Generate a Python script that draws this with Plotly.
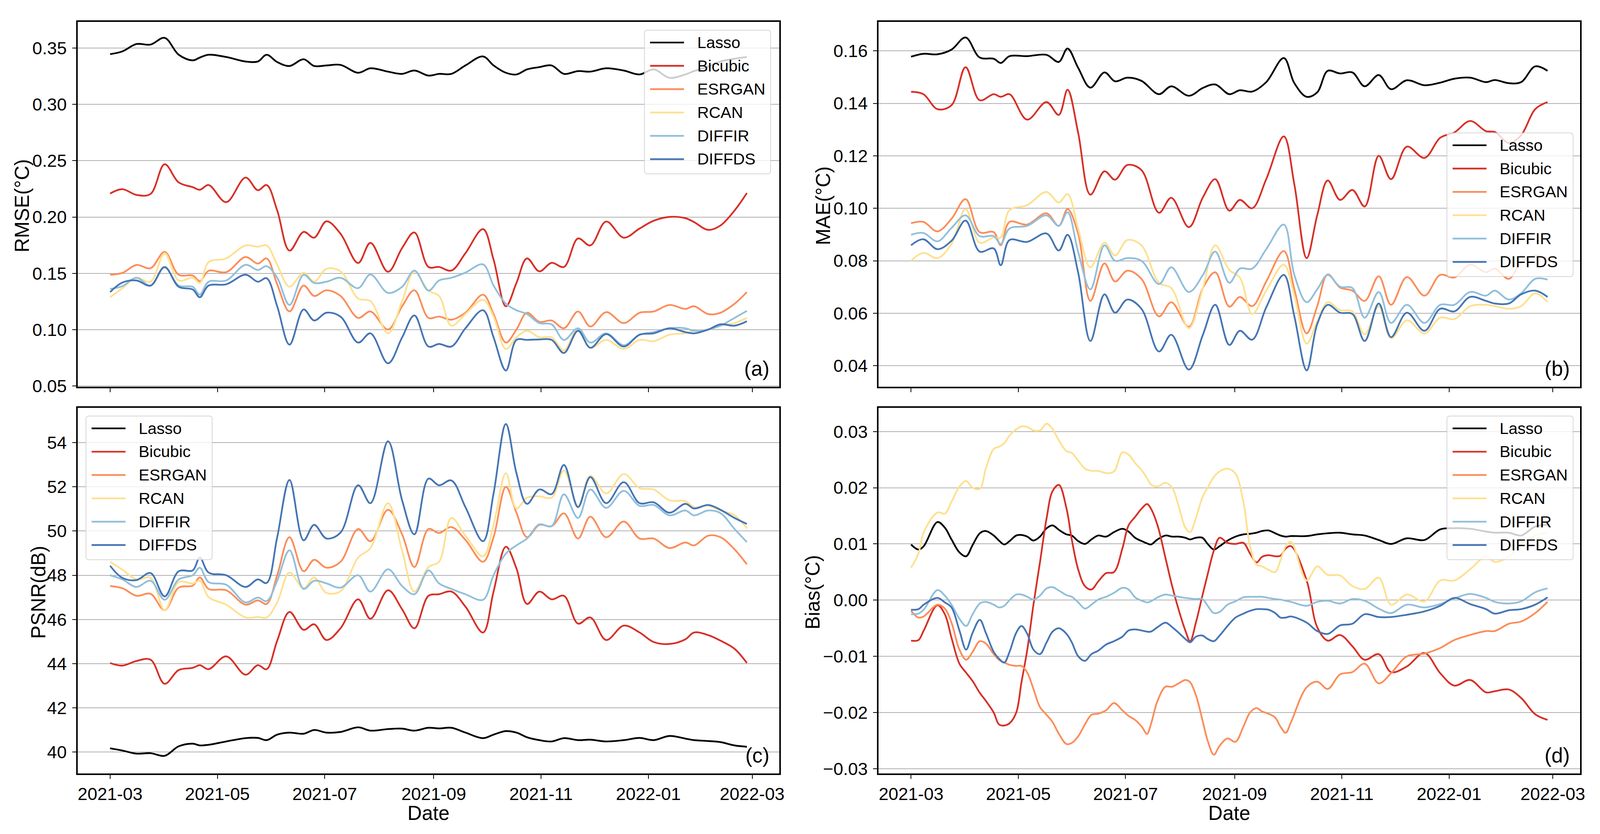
import pandas as pd
import plotly.graph_objects as go

# Reference picture size (px).  The visible page area is a little narrower
# than the reference, so the figure fills it and keeps the reference's
# relative layout (positions are given as fractions of the reference).
REF_W, REF_H = 4230, 2135
KX = 1.034
W, H = round(REF_W / KX), REF_H
S = 1 / 1.017  # scale for fonts and line widths

# ---------------- data ----------------
START = "2021-03-01"
# day offsets from START for panels (a)-(c)
DAYS = [0, 7, 15, 23, 31, 39, 47, 51, 56, 66,
        77, 84, 89, 95, 102, 110, 116, 123, 131, 141,
        148, 158, 166, 173, 181, 187, 194, 202, 212, 218,
        225, 231, 237, 244, 251, 258, 266, 273, 282, 292,
        301, 309, 318, 327, 332, 340, 347, 355, 362]
# day offsets from START for panel (d)
BIAS_DAYS = [0.0, 4.2, 7.2, 15.0, 19.2, 23.0, 27.5, 31.3, 35.0, 39.1,
             42.5, 47.0, 50.0, 53.0, 56.0, 59.8, 62.8, 66.1, 69.6, 73.3,
             77.1, 80.5, 84.1, 88.4, 91.4, 95.1, 98.9, 102.6, 106.4, 110.9,
             115.4, 120.2, 123.7, 127.4, 131.2, 134.2, 136.4, 140.2, 144.7, 148.5,
             152.2, 156.0, 158.7, 162.0, 165.7, 168.7, 172.2, 175.5, 180.0, 184.5,
             189.0, 192.8, 196.5, 199.6, 203.3, 207.1, 210.1, 213.1, 216.1,
             225, 231, 237, 244, 251, 258, 266, 273, 282, 292,
             301, 309, 318, 327, 332, 340, 347, 355, 362]

METHODS = ["Lasso", "Bicubic", "ESRGAN", "RCAN", "DIFFIR", "DIFFDS"]
COLORS = ["#000000", "#d73027", "#fc8d59", "#fee090", "#91bfdb", "#4575b4"]

RMSE_LASSO = [0.3445, 0.347, 0.3535, 0.353, 0.359, 0.344, 0.339, 0.3415, 0.344, 0.342,
              0.338, 0.338, 0.344, 0.3375, 0.334, 0.340, 0.334, 0.3345, 0.335, 0.328,
              0.332, 0.329, 0.327, 0.330, 0.3255, 0.327, 0.327, 0.3345, 0.3425, 0.3345,
              0.328, 0.3265, 0.331, 0.333, 0.3345, 0.327, 0.3295, 0.329, 0.332, 0.330,
              0.3265, 0.331, 0.3235, 0.3265, 0.3295, 0.3335, 0.338, 0.3405, 0.342]
RMSE_BICUBIC = [0.2208, 0.2247, 0.2196, 0.2205, 0.2468, 0.2307, 0.2265, 0.2242, 0.2284, 0.2132,
                0.2350, 0.2238, 0.2284, 0.2058, 0.1702, 0.1868, 0.1817, 0.1962, 0.1852, 0.1592,
                0.1771, 0.1514, 0.1725, 0.1863, 0.1557, 0.1557, 0.1525, 0.1679, 0.1893, 0.1622,
                0.1208, 0.1415, 0.1633, 0.1518, 0.1594, 0.1557, 0.1810, 0.1748, 0.1960, 0.1817,
                0.1898, 0.1967, 0.2001, 0.1990, 0.1955, 0.1886, 0.1925, 0.2058, 0.2213]
RMSE_ESRGAN = [0.1488, 0.1504, 0.1575, 0.1546, 0.1691, 0.1488, 0.1481, 0.1431, 0.1523, 0.1511,
               0.1645, 0.1587, 0.1633, 0.1403, 0.1162, 0.1392, 0.1300, 0.1350, 0.1300, 0.1105,
               0.1162, 0.1002, 0.1208, 0.1350, 0.1105, 0.1117, 0.1089, 0.1151, 0.1311, 0.1139,
               0.0886, 0.1002, 0.1151, 0.1070, 0.1082, 0.1013, 0.1162, 0.1029, 0.1156, 0.1059,
               0.1151, 0.1162, 0.1220, 0.1185, 0.1208, 0.1139, 0.1151, 0.1231, 0.1334]
RMSE_RCAN = [0.1288, 0.1369, 0.1461, 0.1426, 0.1679, 0.1437, 0.1461, 0.1415, 0.1599, 0.1633,
             0.1748, 0.1737, 0.1748, 0.1576, 0.1381, 0.1507, 0.1426, 0.1541, 0.1518, 0.1277,
             0.1254, 0.0968, 0.1254, 0.1518, 0.1347, 0.1300, 0.1036, 0.1139, 0.1265, 0.1116,
             0.0829, 0.0933, 0.0991, 0.0933, 0.0933, 0.0817, 0.1013, 0.0840, 0.0910, 0.0829,
             0.0910, 0.0898, 0.0956, 0.0968, 0.0991, 0.0998, 0.1036, 0.1059, 0.1105]
RMSE_DIFFIR = [0.1362, 0.1387, 0.1461, 0.1392, 0.1553, 0.1392, 0.1381, 0.1311, 0.1426, 0.1437,
               0.1576, 0.1530, 0.1564, 0.1461, 0.1220, 0.1488, 0.1415, 0.1426, 0.1461, 0.1369,
               0.1490, 0.1327, 0.1381, 0.1525, 0.1347, 0.1437, 0.1461, 0.1507, 0.1580, 0.1392,
               0.1231, 0.1173, 0.1139, 0.1059, 0.1048, 0.0910, 0.1013, 0.0886, 0.0968, 0.0863,
               0.0956, 0.0979, 0.1013, 0.1013, 0.0991, 0.1002, 0.1036, 0.1105, 0.1167]
RMSE_DIFFDS = [0.1334, 0.1419, 0.1437, 0.1392, 0.1557, 0.1381, 0.1357, 0.1288, 0.1392, 0.1403,
               0.1488, 0.1426, 0.1457, 0.1208, 0.0868, 0.1180, 0.1082, 0.1151, 0.1116, 0.0886,
               0.0968, 0.0702, 0.0932, 0.1127, 0.0851, 0.0874, 0.0851, 0.1013, 0.1173, 0.0932,
               0.0638, 0.0910, 0.0910, 0.0914, 0.0910, 0.0794, 0.0991, 0.0840, 0.0961, 0.0851,
               0.0956, 0.0968, 0.1013, 0.0979, 0.0968, 0.1002, 0.1048, 0.1036, 0.1075]

MAE_LASSO = [0.1578, 0.1589, 0.1587, 0.1605, 0.1651, 0.1575, 0.1570, 0.1554, 0.1580, 0.1580,
             0.1585, 0.1558, 0.1609, 0.1536, 0.1460, 0.1518, 0.1484, 0.1498, 0.1486, 0.1435,
             0.1465, 0.1429, 0.1459, 0.1472, 0.1435, 0.1450, 0.1445, 0.1481, 0.1573, 0.1477,
             0.1425, 0.1442, 0.1524, 0.1514, 0.1518, 0.1465, 0.1508, 0.1454, 0.1488, 0.1469,
             0.1479, 0.1494, 0.1498, 0.1481, 0.1489, 0.1477, 0.1481, 0.1541, 0.1524]
MAE_BICUBIC = [0.1444, 0.1435, 0.1378, 0.1393, 0.1538, 0.1412, 0.1435, 0.1425, 0.1435, 0.1338,
               0.1405, 0.1356, 0.1452, 0.1289, 0.1052, 0.1141, 0.1109, 0.1165, 0.1146, 0.0983,
               0.1040, 0.0928, 0.1042, 0.1111, 0.0991, 0.1032, 0.1000, 0.1111, 0.1274, 0.1091,
               0.0810, 0.0973, 0.1106, 0.1032, 0.1070, 0.1007, 0.1200, 0.1111, 0.1235, 0.1192,
               0.1269, 0.1289, 0.1333, 0.1294, 0.1291, 0.1249, 0.1279, 0.1378, 0.1405]
MAE_ESRGAN = [0.0943, 0.0948, 0.0912, 0.0960, 0.1035, 0.0909, 0.0909, 0.0859, 0.0948, 0.0938,
              0.0981, 0.0933, 0.0997, 0.0904, 0.0647, 0.0790, 0.0721, 0.0762, 0.0731, 0.0588,
              0.0642, 0.0548, 0.0696, 0.0756, 0.0625, 0.0662, 0.0627, 0.0721, 0.0837, 0.0691,
              0.0523, 0.0627, 0.0748, 0.0698, 0.0686, 0.0647, 0.0741, 0.0632, 0.0738, 0.0667,
              0.0746, 0.0736, 0.0785, 0.0756, 0.0770, 0.0731, 0.0795, 0.0820, 0.0810]
MAE_RCAN = [0.0800, 0.0830, 0.0810, 0.0864, 0.0997, 0.0869, 0.0889, 0.0889, 0.0993, 0.1012,
            0.1062, 0.1022, 0.1054, 0.0923, 0.0775, 0.0869, 0.0820, 0.0879, 0.0859, 0.0716,
            0.0696, 0.0543, 0.0696, 0.0859, 0.0765, 0.0736, 0.0597, 0.0686, 0.0785, 0.0667,
            0.0484, 0.0568, 0.0642, 0.0612, 0.0607, 0.0519, 0.0627, 0.0504, 0.0573, 0.0523,
            0.0583, 0.0578, 0.0627, 0.0632, 0.0627, 0.0617, 0.0627, 0.0676, 0.0642]
MAE_DIFFIR = [0.0899, 0.0906, 0.0874, 0.0925, 0.0973, 0.0894, 0.0894, 0.0864, 0.0923, 0.0933,
              0.0973, 0.0933, 0.0985, 0.0835, 0.0691, 0.0859, 0.0800, 0.0810, 0.0800, 0.0711,
              0.0775, 0.0681, 0.0746, 0.0835, 0.0716, 0.0770, 0.0770, 0.0844, 0.0938, 0.0746,
              0.0642, 0.0691, 0.0746, 0.0701, 0.0696, 0.0583, 0.0681, 0.0563, 0.0632, 0.0563,
              0.0632, 0.0632, 0.0681, 0.0667, 0.0686, 0.0652, 0.0676, 0.0731, 0.0728]
MAE_DIFFDS = [0.0859, 0.0882, 0.0844, 0.0876, 0.0953, 0.0835, 0.0847, 0.0783, 0.0879, 0.0872,
              0.0904, 0.0839, 0.0899, 0.0756, 0.0494, 0.0672, 0.0602, 0.0652, 0.0617, 0.0454,
              0.0518, 0.0385, 0.0518, 0.0632, 0.0479, 0.0533, 0.0499, 0.0622, 0.0746, 0.0588,
              0.0382, 0.0558, 0.0632, 0.0602, 0.0597, 0.0494, 0.0637, 0.0509, 0.0602, 0.0533,
              0.0617, 0.0607, 0.0662, 0.0647, 0.0637, 0.0637, 0.0672, 0.0686, 0.0662]

PSNR_LASSO = [40.17, 40.07, 39.93, 39.95, 39.83, 40.26, 40.38, 40.30, 40.33, 40.48,
              40.63, 40.64, 40.54, 40.79, 40.88, 40.83, 41.00, 40.88, 40.91, 41.12,
              40.97, 41.04, 41.06, 40.97, 41.10, 41.07, 41.10, 40.88, 40.63, 40.79,
              40.95, 40.88, 40.67, 40.54, 40.48, 40.63, 40.54, 40.56, 40.48, 40.54,
              40.64, 40.54, 40.73, 40.61, 40.54, 40.50, 40.45, 40.30, 40.24]
PSNR_BICUBIC = [44.03, 43.91, 44.12, 44.18, 43.09, 43.71, 43.81, 43.93, 43.75, 44.33,
                43.50, 43.93, 43.75, 45.04, 46.34, 45.53, 45.78, 45.07, 45.60, 46.91,
                46.03, 47.32, 46.46, 45.60, 47.07, 47.14, 47.26, 46.58, 45.41, 47.26,
                49.29, 48.31, 46.70, 47.26, 46.91, 47.07, 45.81, 46.09, 45.07, 45.72,
                45.41, 44.98, 44.89, 45.10, 45.41, 45.29, 45.04, 44.67, 44.03]
PSNR_ESRGAN = [47.51, 47.41, 47.07, 47.16, 46.42, 47.44, 47.53, 47.90, 47.38, 47.32,
               46.67, 46.86, 46.70, 48.00, 49.72, 48.18, 48.70, 48.34, 48.61, 50.09,
               49.54, 50.96, 49.85, 48.37, 50.09, 49.91, 50.18, 49.60, 48.61, 49.72,
               52.00, 50.83, 49.72, 50.28, 50.22, 50.80, 49.66, 50.65, 49.72, 50.43,
               49.66, 49.66, 49.23, 49.48, 49.35, 49.79, 49.72, 49.17, 48.49]
PSNR_RCAN = [48.61, 48.25, 47.81, 47.88, 46.42, 47.69, 47.63, 47.75, 47.01, 46.67,
             46.09, 46.11, 46.09, 46.77, 48.12, 47.41, 47.90, 47.20, 47.28, 48.80,
             49.23, 51.26, 49.11, 47.26, 48.37, 48.61, 50.59, 49.79, 48.86, 50.28,
             52.62, 51.02, 51.51, 51.57, 51.51, 52.74, 51.14, 52.50, 51.70, 52.58,
             51.94, 51.88, 51.39, 51.35, 51.08, 51.14, 50.93, 50.71, 50.12]
PSNR_DIFFIR = [48.00, 47.81, 47.47, 47.75, 46.89, 47.81, 48.00, 48.34, 47.69, 47.57,
               46.77, 46.99, 46.83, 47.75, 49.13, 47.38, 47.75, 47.63, 47.44, 48.00,
               47.26, 48.27, 47.51, 47.14, 48.22, 47.63, 47.38, 47.14, 46.89, 48.00,
               48.98, 49.35, 49.66, 50.30, 50.22, 51.66, 50.59, 51.88, 51.05, 51.82,
               51.14, 51.18, 50.71, 50.93, 50.71, 50.93, 50.81, 50.09, 49.50]
PSNR_DIFFDS = [48.43, 47.88, 47.78, 48.10, 47.04, 48.18, 48.22, 48.80, 48.12, 48.00,
               47.47, 47.81, 47.65, 49.72, 52.31, 49.58, 50.28, 49.66, 49.93, 52.07,
               51.26, 54.06, 51.39, 49.85, 52.37, 52.07, 52.29, 51.08, 49.54, 51.70,
               54.84, 52.62, 51.23, 51.88, 51.67, 52.99, 51.08, 52.44, 51.26, 52.21,
               51.26, 51.30, 50.83, 51.23, 51.02, 51.18, 50.96, 50.59, 50.32]

BIAS_LASSO = [0.0099, 0.0090, 0.0096, 0.0139, 0.0129, 0.0108, 0.0085, 0.0078, 0.0098, 0.0119,
              0.0123, 0.0115, 0.0106, 0.0099, 0.0105, 0.0115, 0.0116, 0.0113, 0.0106, 0.0113,
              0.0128, 0.0133, 0.0125, 0.0117, 0.0115, 0.0105, 0.0100, 0.0108, 0.0115, 0.0113,
              0.0121, 0.0127, 0.0122, 0.0111, 0.0105, 0.0101, 0.0099, 0.0108, 0.0115, 0.0113,
              0.0113, 0.0111, 0.0108, 0.0111, 0.0111, 0.0100, 0.0090, 0.0096, 0.0106, 0.0113,
              0.0117, 0.0118, 0.0120, 0.0123, 0.0124, 0.0119, 0.0115, 0.0113, 0.0114,
              0.0114, 0.0117, 0.0119, 0.0120, 0.0117, 0.0115, 0.0107, 0.0100, 0.0110, 0.0107,
              0.0126, 0.0128, 0.0127, 0.0122, 0.0120, 0.0120, 0.0115, 0.0131, 0.0134]
BIAS_BICUBIC = [-0.0072, -0.0071, -0.0054, -0.0009, -0.0025, -0.0067, -0.0113, -0.0129, -0.0144, -0.0165,
                -0.0179, -0.0200, -0.0221, -0.0223, -0.0219, -0.0200, -0.0146, -0.0088, -0.0008, 0.0067,
                0.0146, 0.0194, 0.0205, 0.0163, 0.0108, 0.0054, 0.0025, 0.0019, 0.0033, 0.0048,
                0.0050, 0.0092, 0.0133, 0.0148, 0.0163, 0.0171, 0.0163, 0.0133, 0.0075, 0.0025,
                -0.0017, -0.0054, -0.0073, -0.0040, 0.0008, 0.0046, 0.0088, 0.0111, 0.0102, 0.0100,
                0.0102, 0.0083, 0.0067, 0.0077, 0.0080, 0.0078, 0.0079, 0.0092, 0.0096,
                0.0035, -0.0048, -0.0072, -0.0062, -0.0082, -0.0106, -0.0096, -0.0128, -0.0118, -0.0094,
                -0.0130, -0.0152, -0.0142, -0.0164, -0.0162, -0.0159, -0.0174, -0.0203, -0.0213]
BIAS_ESRGAN = [-0.0019, -0.0031, -0.0029, -0.0008, -0.0015, -0.0040, -0.0088, -0.0106, -0.0092, -0.0073,
               -0.0077, -0.0096, -0.0106, -0.0111, -0.0115, -0.0117, -0.0117, -0.0129, -0.0158, -0.0190,
               -0.0204, -0.0217, -0.0238, -0.0256, -0.0254, -0.0242, -0.0221, -0.0204, -0.0202, -0.0196,
               -0.0183, -0.0196, -0.0206, -0.0213, -0.0225, -0.0238, -0.0221, -0.0179, -0.0154, -0.0154,
               -0.0148, -0.0142, -0.0146, -0.0169, -0.0213, -0.0250, -0.0275, -0.0259, -0.0246, -0.0252,
               -0.0225, -0.0200, -0.0192, -0.0198, -0.0202, -0.0209, -0.0225, -0.0236, -0.0217,
               -0.0155, -0.0145, -0.0158, -0.0132, -0.0128, -0.0113, -0.0148, -0.0130, -0.0100, -0.0095,
               -0.0085, -0.0071, -0.0062, -0.0055, -0.0055, -0.0042, -0.0038, -0.0023, -0.0003]
BIAS_RCAN = [0.0058, 0.0083, 0.0121, 0.0156, 0.0154, 0.0175, 0.0202, 0.0212, 0.0200, 0.0198,
             0.0234, 0.0269, 0.0273, 0.0279, 0.0293, 0.0304, 0.0309, 0.0308, 0.0302, 0.0302,
             0.0314, 0.0304, 0.0284, 0.0265, 0.0262, 0.0248, 0.0234, 0.0230, 0.0230, 0.0226,
             0.0229, 0.0263, 0.0259, 0.0244, 0.0231, 0.0217, 0.0206, 0.0202, 0.0209, 0.0200,
             0.0167, 0.0129, 0.0121, 0.0146, 0.0183, 0.0200, 0.0219, 0.0229, 0.0234, 0.0225,
             0.0175, 0.0096, 0.0063, 0.0060, 0.0054, 0.0050, 0.0071, 0.0096, 0.0104,
             0.0035, 0.0060, 0.0045, 0.0044, 0.0025, 0.0020, 0.0040, -0.0008, 0.0010, -0.0002,
             0.0035, 0.0035, 0.0055, 0.0078, 0.0068, 0.0078, 0.0100, 0.0115, 0.0120]
BIAS_DIFFIR = [-0.0025, -0.0024, -0.0017, 0.0018, 0.0008, -0.0008, -0.0033, -0.0046, -0.0025, -0.0006,
               -0.0003, -0.0008, -0.0013, -0.0010, 0.0000, 0.0010, 0.0010, 0.0006, 0.0001, 0.0008,
               0.0021, 0.0023, 0.0017, 0.0009, 0.0006, -0.0004, -0.0015, -0.0008, 0.0001, 0.0006,
               0.0013, 0.0022, 0.0019, 0.0005, -0.0001, -0.0004, -0.0002, 0.0005, 0.0010, 0.0008,
               0.0006, 0.0004, 0.0003, 0.0002, 0.0002, -0.0010, -0.0023, -0.0021, -0.0008, -0.0002,
               0.0005, 0.0006, 0.0006, 0.0006, 0.0004, 0.0002, 0.0001, -0.0001, -0.0003,
               -0.0010, -0.0003, -0.0001, -0.0006, 0.0002, -0.0001, -0.0015, -0.0023, -0.0008, -0.0013,
               -0.0007, 0.0003, 0.0011, 0.0004, -0.0003, -0.0006, -0.0002, 0.0014, 0.0021]
BIAS_DIFFDS = [-0.0017, -0.0016, -0.0008, 0.0004, -0.0004, -0.0013, -0.0054, -0.0088, -0.0058, -0.0035,
               -0.0058, -0.0092, -0.0104, -0.0111, -0.0092, -0.0058, -0.0046, -0.0060, -0.0088, -0.0096,
               -0.0075, -0.0056, -0.0050, -0.0060, -0.0075, -0.0100, -0.0108, -0.0096, -0.0090, -0.0079,
               -0.0073, -0.0065, -0.0054, -0.0052, -0.0054, -0.0056, -0.0056, -0.0048, -0.0040, -0.0048,
               -0.0058, -0.0069, -0.0075, -0.0065, -0.0063, -0.0069, -0.0073, -0.0063, -0.0046, -0.0031,
               -0.0024, -0.0019, -0.0016, -0.0016, -0.0017, -0.0023, -0.0031, -0.0031, -0.0029,
               -0.0040, -0.0055, -0.0060, -0.0045, -0.0042, -0.0025, -0.0030, -0.0030, -0.0026, -0.0020,
               -0.0010, 0.0004, -0.0007, -0.0016, -0.0024, -0.0018, -0.0016, -0.0008, 0.0005]

X_TICKS = ["2021-03-01", "2021-05-01", "2021-07-01", "2021-09-01",
           "2021-11-01", "2022-01-01", "2022-03-01"]
X_TICK_TEXT = ["2021-03", "2021-05", "2021-07", "2021-09", "2021-11", "2022-01", "2022-03"]
Y_TITLES = ["RMSE(°C)", "MAE(°C)", "PSNR(dB)", "Bias(°C)"]
PANEL_TAGS = ["(a)", "(b)", "(c)", "(d)"]

# ---------------- layout geometry (reference pixels) ----------------
FONT = "Liberation Sans, Arial, Helvetica, sans-serif"
PANELS = [  # left, right, top, bottom
    (198, 2061, 49, 993),
    (2325, 4187, 49, 993),
    (198, 2061, 1048, 1994),
    (2325, 4187, 1048, 1994),
]
Y_RANGES = [(0.0495, 0.373), (0.032, 0.171), (39.04, 55.57), (-0.0308, 0.0342)]
Y_DTICK = [0.05, 0.02, 2, 0.01]
Y_FMT = [".2f", ".2f", "d", ".2f"]
Y_TITLE_X = [50, 2177, 94, 2150]
LEGEND_BOX = [(1703, 70), (3834, 336), (220, 1069), (3834, 1069)]
X_RANGE = ["2021-02-10 14:00", "2022-03-16 10:00"]


def px(x):
    return x / REF_W


def py(y):
    return 1 - y / REF_H


def sz(v):
    return v * S


start = pd.Timestamp(START)
dates = start + pd.to_timedelta(DAYS, unit="D")
bias_dates = start + pd.to_timedelta(BIAS_DAYS, unit="D")

panel_series = [
    (dates, [RMSE_LASSO, RMSE_BICUBIC, RMSE_ESRGAN, RMSE_RCAN, RMSE_DIFFIR, RMSE_DIFFDS]),
    (dates, [MAE_LASSO, MAE_BICUBIC, MAE_ESRGAN, MAE_RCAN, MAE_DIFFIR, MAE_DIFFDS]),
    (dates, [PSNR_LASSO, PSNR_BICUBIC, PSNR_ESRGAN, PSNR_RCAN, PSNR_DIFFIR, PSNR_DIFFDS]),
    (bias_dates, [BIAS_LASSO, BIAS_BICUBIC, BIAS_ESRGAN, BIAS_RCAN, BIAS_DIFFIR, BIAS_DIFFDS]),
]

fig = go.Figure()
shapes = []
annotations = []
tick_font = dict(size=sz(46), color="black", family=FONT)

for i, (xs, series) in enumerate(panel_series):
    sfx = "" if i == 0 else str(i + 1)
    for name, color, vals in zip(METHODS, COLORS, series):
        fig.add_trace(go.Scatter(
            x=xs, y=vals, name=name, mode="lines",
            line=dict(color=color, width=sz(4.5), shape="spline", smoothing=1.0),
            xaxis="x" + sfx, yaxis="y" + sfx, showlegend=False,
        ))
    l, r, t, b = PANELS[i]
    show_x_labels = i >= 2
    fig.layout["xaxis" + sfx] = dict(
        domain=[px(l), px(r)], anchor="y" + sfx, type="date", range=X_RANGE,
        tickmode="array", tickvals=X_TICKS, ticktext=X_TICK_TEXT,
        showticklabels=show_x_labels, ticks="outside", ticklen=10, tickwidth=2,
        tickcolor="black", showgrid=False, zeroline=False,
        showline=True, mirror=True, linewidth=4, linecolor="black",
        tickfont=tick_font,
    )
    y0, y1 = Y_RANGES[i]
    fig.layout["yaxis" + sfx] = dict(
        domain=[py(b), py(t)], anchor="x" + sfx, range=[y0, y1],
        tickmode="linear", tick0=0, dtick=Y_DTICK[i], tickformat=Y_FMT[i],
        ticks="outside", ticklen=10, tickwidth=2, tickcolor="black",
        showgrid=True, gridcolor="#b0b0b0", gridwidth=2, zeroline=False,
        showline=True, mirror=True, linewidth=4, linecolor="black",
        tickfont=tick_font, ticklabelstandoff=5,
    )
    # y-axis title
    annotations.append(dict(
        text=Y_TITLES[i], x=px(Y_TITLE_X[i]), y=py((t + b) / 2 + 4),
        xref="paper", yref="paper", textangle=-90, showarrow=False,
        xanchor="center", yanchor="middle",
        font=dict(size=sz(52), color="black", family=FONT),
    ))
    # x-axis title
    if show_x_labels:
        annotations.append(dict(
            text="Date", x=px((l + r) / 2), y=py(2097), xref="paper", yref="paper",
            showarrow=False, xanchor="center", yanchor="middle",
            font=dict(size=sz(52), color="black", family=FONT),
        ))
    # panel tag
    annotations.append(dict(
        text=PANEL_TAGS[i], x=px(r - 24), y=py(b - 47), xref="paper", yref="paper",
        showarrow=False, xanchor="right", yanchor="middle",
        font=dict(size=sz(54), color="black", family=FONT),
    ))
    # legend (matplotlib-style rounded box)
    bx, by = LEGEND_BOX[i]
    bw, bh, rad = 335, 372, 8
    x0, x1 = bx, bx + bw
    ya, yb = by, by + bh
    path = (f"M{px(x0 + rad)},{py(ya)} L{px(x1 - rad)},{py(ya)} "
            f"Q{px(x1)},{py(ya)} {px(x1)},{py(ya + rad)} "
            f"L{px(x1)},{py(yb - rad)} Q{px(x1)},{py(yb)} {px(x1 - rad)},{py(yb)} "
            f"L{px(x0 + rad)},{py(yb)} Q{px(x0)},{py(yb)} {px(x0)},{py(yb - rad)} "
            f"L{px(x0)},{py(ya + rad)} Q{px(x0)},{py(ya)} {px(x0 + rad)},{py(ya)} Z")
    shapes.append(dict(type="path", path=path, xref="paper", yref="paper",
                       fillcolor="rgba(255,255,255,0.8)",
                       line=dict(color="rgba(204,204,204,0.8)", width=2), layer="above"))
    for k, (name, color) in enumerate(zip(METHODS, COLORS)):
        yy = by + 32 + 60.4 * k
        shapes.append(dict(type="line", xref="paper", yref="paper",
                           x0=px(bx + 15), x1=px(bx + 105), y0=py(yy), y1=py(yy),
                           line=dict(color=color, width=sz(4.5)), layer="above"))
        annotations.append(dict(
            text=name, x=px(bx + 138), y=py(yy), xref="paper", yref="paper",
            showarrow=False, xanchor="left", yanchor="middle",
            font=dict(size=sz(42), color="black", family=FONT),
        ))

fig.update_layout(
    width=W, height=H, margin=dict(l=0, r=0, t=0, b=0),
    paper_bgcolor="white", plot_bgcolor="white",
    font=dict(family=FONT, color="black"),
    shapes=shapes, annotations=annotations, showlegend=False,
)

fig.write_html("out.html")
